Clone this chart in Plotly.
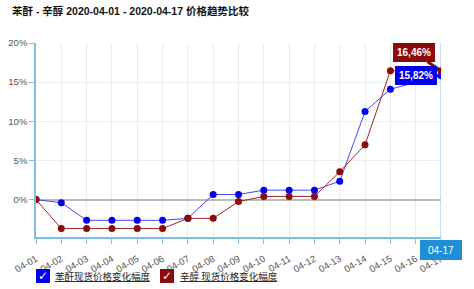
import plotly.graph_objects as go

dates = ["04-01", "04-02", "04-03", "04-04", "04-05", "04-06", "04-07", "04-08", "04-09",
         "04-10", "04-11", "04-12", "04-13", "04-14", "04-15", "04-16", "04-17"]
pa_values = [0, -0.4, -2.65, -2.65, -2.65, -2.65, -2.4, 0.65, 0.65,
             1.2, 1.2, 1.2, 2.35, 11.25, 14.1, None, 15.82]
octanol_values = [0, -3.7, -3.7, -3.7, -3.7, -3.7, -2.4, -2.4, -0.25,
                  0.4, 0.4, 0.4, 3.55, 7.0, 16.46, None, 16.46]
y_ticks = [0, 5, 10, 15, 20]
y_tick_labels = ["0%", "5%", "10%", "15%", "20%"]
series_names = ["苯酐现货价格变化幅度", "辛醇 现货价格变化幅度"]
title_text = "苯酐 - 辛醇 2020-04-01 - 2020-04-17 价格趋势比较"

BLUE = "#0000ee"
RED = "#8b0a0a"
AXIS_BLUE = "#7dbde6"
FONT = "Liberation Sans, Noto Sans CJK SC, sans-serif"

fig = go.Figure()
fig.add_trace(go.Scatter(x=dates, y=pa_values, mode="lines+markers", connectgaps=True,
                         line=dict(color="#4848f0", width=1),
                         marker=dict(color=BLUE, size=7), name=series_names[0]))
fig.add_trace(go.Scatter(x=dates, y=octanol_values, mode="lines+markers", connectgaps=True,
                         line=dict(color="#9a2a2a", width=1),
                         marker=dict(color=RED, size=7), name=series_names[1]))

# crosshair line at last date
fig.add_shape(type="line", xref="x", yref="paper", x0=dates[-1], x1=dates[-1], y0=0, y1=1,
              line=dict(color="#c6e0f2", width=2), layer="below")

# tooltips
last_red = octanol_values[-1]
last_blue = pa_values[-1]
fig.add_annotation(x=dates[-1], y=last_red, ax=-27, ay=-18, axref="pixel", ayref="pixel",
                   text="<b>" + f"{last_red:.2f}".replace(".", ",") + "%</b>",
                   showarrow=True, arrowhead=0, arrowwidth=3, arrowcolor=RED,
                   bgcolor=RED, bordercolor=RED, borderpad=3,
                   font=dict(color="white", size=10, family=FONT))
fig.add_annotation(x=dates[-1], y=last_blue, ax=-25, ay=0, axref="pixel", ayref="pixel",
                   text="<b>" + f"{last_blue:.2f}".replace(".", ",") + "%</b>",
                   showarrow=True, arrowhead=0, arrowwidth=3, arrowcolor=BLUE,
                   bgcolor=BLUE, bordercolor=BLUE, borderpad=3,
                   font=dict(color="white", size=10, family=FONT))

# x crosshair label
fig.add_annotation(x=dates[-1], y=0, xref="x", yref="paper", yanchor="top", yshift=-3,
                   text=dates[-1], showarrow=False, bgcolor="#1e8fd6", bordercolor="#1e8fd6",
                   width=36, height=14, borderpad=2, font=dict(color="white", size=10, family=FONT))

# custom legend (checkbox style)
for cx, tx, col, name in [(0.0173, 0.042, BLUE, series_names[0]), (0.3235, 0.351, RED, series_names[1])]:
    fig.add_annotation(x=cx, y=-0.201, xref="paper", yref="paper", xanchor="center", yanchor="middle",
                       text="<b>✓</b>",
                       showarrow=False, bgcolor=col, bordercolor=col, width=11, height=11,
                       borderpad=0.5, font=dict(color="white", size=12, family="DejaVu Sans"))
    fig.add_annotation(x=tx, y=-0.201, xref="paper", yref="paper", xanchor="left", yanchor="middle",
                       text="<u>" + name + "</u>", showarrow=False,
                       font=dict(color="#222222", size=9.5, family="Noto Sans CJK SC"))

fig.update_layout(
    width=474, height=289,
    margin=dict(l=36, r=33, t=43, b=52),
    plot_bgcolor="white", paper_bgcolor="white",
    showlegend=False,
    title=dict(text="<b>" + title_text + "</b>", x=12 / 474, xanchor="left", xref="container",
               y=1 - 11 / 289, yanchor="middle", yref="container",
               font=dict(size=10.5, color="#111111", family=FONT)),
    font=dict(family=FONT),
)
fig.update_xaxes(type="category", categoryorder="array", categoryarray=dates,
                 range=[0, len(dates) - 1], showgrid=True, gridcolor="#ececec", gridwidth=1,
                 showline=True, linecolor=AXIS_BLUE, linewidth=1.5, automargin=False,
                 ticks="outside", ticklen=5, tickcolor=AXIS_BLUE, tickangle=-30,
                 ticklabelstandoff=6,
                 tickfont=dict(size=9.5, color="#555555", family=FONT), zeroline=False)
fig.update_yaxes(range=[-4.78, 20], tickmode="array", tickvals=y_ticks, ticktext=y_tick_labels,
                 showgrid=True, gridcolor="#ececec", gridwidth=1, automargin=False,
                 zeroline=True, zerolinecolor="#bbbbbb", zerolinewidth=1.5,
                 showline=True, linecolor=AXIS_BLUE, linewidth=1.5,
                 ticks="outside", ticklen=5, tickcolor=AXIS_BLUE,
                 tickfont=dict(size=9.5, color="#555555", family=FONT))

fig.write_html("out.html")
